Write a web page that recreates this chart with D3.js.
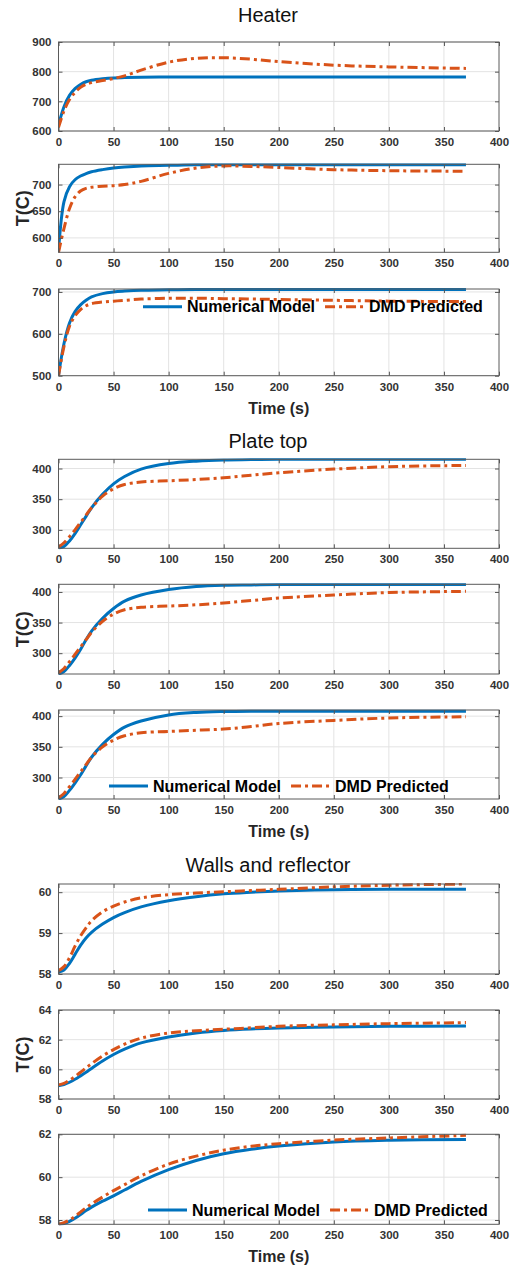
<!DOCTYPE html>
<html>
<head>
<meta charset="utf-8">
<script src="https://cdn.jsdelivr.net/npm/d3@7"></script>
<style>
  body { margin: 0; background: #fff; }
  svg { display: block; font-family: "Liberation Sans", Arial, sans-serif; }
</style>
</head>
<body>
<svg id="canvas" width="519" height="1270"></svg>
<script>
// time samples (s)
let time = [0, 5, 10, 15, 20, 25, 30, 40, 50, 60, 75, 100, 125, 150, 175, 200, 250, 300, 370]

// Heater
let heater1Num = [620, 682, 720, 743, 757, 766, 771, 776, 779, 780, 781, 782, 782, 782, 782, 782, 782, 782, 782]
let heater1Dmd = [612, 668, 706, 730, 747, 757, 763, 770, 777, 786, 805, 832, 845, 847, 842, 834, 822, 816, 811]
let heater2Num = [575, 668, 696, 709, 716, 720.5, 724, 728, 731, 733, 735, 736, 737, 737, 737, 737, 737, 737, 737]
let heater2Dmd = [573, 618, 655, 677, 688, 693, 695, 697, 698, 700, 706, 721, 731, 735, 734, 732, 728, 726, 725]
let heater3Num = [500, 577, 626, 653, 669, 680, 688, 696, 700, 702, 704, 705, 706, 706, 706, 706, 706, 706, 706]
let heater3Dmd = [500, 570, 618, 643, 658, 667, 672, 676, 678, 680, 683, 685, 685, 684, 683, 682, 680, 678, 677]

// Plate top
let plate1Num = [270, 273, 282, 294, 308, 322, 336, 358, 375, 387, 399, 408, 412, 414, 414.5, 415, 415, 415, 415]
let plate1Dmd = [272, 279, 289, 300, 312, 324, 336, 355, 367, 374, 378, 380, 382, 385, 389, 393, 399, 403, 405]
let plate2Num = [266, 270, 280, 292, 306, 322, 336, 357, 373, 385, 395, 404, 409, 411, 411.5, 412, 412, 412, 412]
let plate2Dmd = [268, 275, 286, 298, 310, 322, 334, 352, 364, 371, 375, 377, 379, 382, 386, 390, 395, 399, 401]
let plate3Num = [265, 269, 279, 291, 304, 319, 333, 354, 370, 382, 392, 402, 406, 407.5, 408, 408, 408, 408, 408]
let plate3Dmd = [267, 274, 285, 297, 309, 321, 333, 350, 361, 368, 373, 375, 377, 379, 383, 388, 393, 397, 399]

// Walls and reflector
let walls1Num = [58.05, 58.1, 58.26, 58.48, 58.7, 58.88, 59.02, 59.22, 59.38, 59.5, 59.64, 59.79, 59.89, 59.96, 60.0, 60.03, 60.06, 60.07, 60.07]
let walls1Dmd = [58.08, 58.18, 58.4, 58.68, 58.93, 59.13, 59.3, 59.52, 59.66, 59.76, 59.86, 59.94, 59.98, 60.01, 60.04, 60.07, 60.13, 60.17, 60.2]
let walls2Num = [58.9, 58.97, 59.13, 59.33, 59.56, 59.8, 60.06, 60.56, 61.0, 61.36, 61.78, 62.18, 62.45, 62.62, 62.72, 62.78, 62.85, 62.9, 62.92]
let walls2Dmd = [58.95, 59.06, 59.27, 59.52, 59.8, 60.1, 60.38, 60.9, 61.33, 61.7, 62.1, 62.45, 62.6, 62.7, 62.8, 62.9, 63.0, 63.08, 63.15]
let walls3Num = [57.78, 57.84, 57.94, 58.08, 58.26, 58.44, 58.6, 58.88, 59.13, 59.4, 59.8, 60.35, 60.78, 61.09, 61.3, 61.45, 61.64, 61.72, 61.76]
let walls3Dmd = [57.8, 57.88, 58.0, 58.17, 58.37, 58.57, 58.75, 59.07, 59.37, 59.65, 60.06, 60.61, 60.98, 61.26, 61.44, 61.56, 61.73, 61.83, 61.95]

// axis limits and ticks
let xTicks = [0, 50, 100, 150, 200, 250, 300, 350, 400]
let yDomains = [[600, 900], [573, 738], [500, 707], [270, 415], [266, 412.5], [265, 410], [58, 60.2], [58, 64], [57.8, 62]]
let yTicks = [[600, 700, 800, 900], [600, 650, 700], [500, 600, 700], [300, 350, 400], [300, 350, 400], [300, 350, 400], [58, 59, 60], [58, 60, 62, 64], [58, 60, 62]]

let groupTitles = ['Heater', 'Plate top', 'Walls and reflector']
let seriesNames = ['Numerical Model', 'DMD Predicted']

let numSeries = [heater1Num, heater2Num, heater3Num, plate1Num, plate2Num, plate3Num, walls1Num, walls2Num, walls3Num]
let dmdSeries = [heater1Dmd, heater2Dmd, heater3Dmd, plate1Dmd, plate2Dmd, plate3Dmd, walls1Dmd, walls2Dmd, walls3Dmd]

// layout: panel top/bottom in px
let panelBox = [[42, 131], [164.3, 252.3], [289, 375.7], [459.3, 548.3], [584.3, 674], [710, 799], [884, 974], [1010, 1099], [1134.3, 1224.3]]
let titleY = [22, 448, 872]
let left = 58.5, right = 499

let blue = '#0072BD'
let orange = '#D95319'

let canvas = d3.select('#canvas')

let x = d3.scaleLinear().domain([0, 400]).range([left, right])

let drawPanel = (i) => {
    let top = panelBox[i][0], bottom = panelBox[i][1]
    let y = d3.scaleLinear().domain(yDomains[i]).range([bottom, top])
    let g = canvas.append('g')

    // grid
    g.selectAll('.vgrid').data(xTicks.slice(1, -1)).enter().append('line')
        .attr('x1', d => x(d)).attr('x2', d => x(d))
        .attr('y1', top).attr('y2', bottom)
        .attr('stroke', '#e3e3e3').attr('stroke-width', 1)
    g.selectAll('.hgrid').data(yTicks[i]).enter().append('line')
        .attr('x1', left).attr('x2', right)
        .attr('y1', d => y(d)).attr('y2', d => y(d))
        .attr('stroke', '#e3e3e3').attr('stroke-width', 1)

    // lines
    g.append('clipPath').attr('id', 'clip' + i)
        .append('rect').attr('x', left).attr('y', top - 1)
        .attr('width', right - left).attr('height', bottom - top + 2)

    let line = d3.line()
        .x((d, k) => x(time[k]))
        .y(d => y(d))
        .curve(d3.curveCatmullRom.alpha(0.5))

    g.append('path').datum(numSeries[i])
        .attr('d', line)
        .attr('fill', 'none').attr('stroke', blue).attr('stroke-width', 3)
        .attr('clip-path', 'url(#clip' + i + ')')
    g.append('path').datum(dmdSeries[i])
        .attr('d', line)
        .attr('fill', 'none').attr('stroke', orange).attr('stroke-width', 3)
        .attr('stroke-dasharray', '10,4,3,4')
        .attr('clip-path', 'url(#clip' + i + ')')

    // axes (ticks inside, box on)
    let xAxis = d3.axisBottom(x).tickValues(xTicks).tickSizeInner(-4).tickSizeOuter(0).tickPadding(7)
    let xTop = d3.axisTop(x).tickValues(xTicks).tickSizeInner(-4).tickSizeOuter(0).tickFormat('')
    let yAxis = d3.axisLeft(y).tickValues(yTicks[i]).tickSizeInner(-4).tickSizeOuter(0).tickPadding(7)
        .tickFormat(d3.format('d'))
    let yRight = d3.axisRight(y).tickValues(yTicks[i]).tickSizeInner(-4).tickSizeOuter(0).tickFormat('')

    let axes = [
        g.append('g').attr('transform', 'translate(0,' + bottom + ')').call(xAxis),
        g.append('g').attr('transform', 'translate(0,' + top + ')').call(xTop),
        g.append('g').attr('transform', 'translate(' + left + ',0)').call(yAxis),
        g.append('g').attr('transform', 'translate(' + right + ',0)').call(yRight)
    ]
    axes.forEach(a => {
        a.select('.domain').remove()
        a.selectAll('.tick line').attr('stroke', '#555')
        a.selectAll('.tick text')
            .attr('fill', '#333')
            .style('font-size', '11.5px')
            .style('font-weight', 'bold')
            .style('font-family', '"Liberation Sans", Arial, sans-serif')
    })

    g.append('rect')
        .attr('x', left).attr('y', top)
        .attr('width', right - left).attr('height', bottom - top)
        .attr('fill', 'none').attr('stroke', '#5a5a5a').attr('stroke-width', 1)

    return g
}

let drawLegend = (g, lx, ly) => {
    let items = g.append('g').attr('transform', 'translate(' + lx + ',' + ly + ')')
    let cx = 0
    seriesNames.forEach((name, k) => {
        let ln = items.append('line')
            .attr('x1', cx).attr('x2', cx + 39)
            .attr('y1', 0).attr('y2', 0)
            .attr('stroke', k === 0 ? blue : orange).attr('stroke-width', 3)
        if (k === 1) ln.attr('stroke-dasharray', '10,4,3,4')
        cx += 44
        let t = items.append('text')
            .attr('x', cx).attr('y', 0).attr('dy', '0.35em')
            .style('font-size', '16px').style('font-weight', 'bold')
            .attr('fill', '#000')
            .text(name)
        cx += t.node().getComputedTextLength() + 10
    })
}

for (let i = 0; i < 9; i++) {
    let g = drawPanel(i)
    let grp = Math.floor(i / 3)
    let pos = i % 3

    if (pos === 0) {
        canvas.append('text')
            .attr('x', 268).attr('y', titleY[grp])
            .attr('text-anchor', 'middle')
            .style('font-size', '20px')
            .attr('fill', '#111')
            .text(groupTitles[grp])
    }
    if (pos === 1) {
        let mid = (panelBox[i][0] + panelBox[i][1]) / 2
        canvas.append('text')
            .attr('transform', 'translate(29,' + mid + ') rotate(-90)')
            .attr('text-anchor', 'middle')
            .style('font-size', '18px').style('font-weight', 'bold')
            .attr('fill', '#262626')
            .text('T(C)')
    }
    if (pos === 2) {
        canvas.append('text')
            .attr('x', (left + right) / 2).attr('y', panelBox[i][1] + 38)
            .attr('text-anchor', 'middle')
            .style('font-size', '16px').style('font-weight', 'bold')
            .attr('fill', '#262626')
            .text('Time (s)')
    }
}

// legends in the bottom panel of each group
drawLegend(canvas, 143, 306.7)
drawLegend(canvas, 109, 786)
drawLegend(canvas, 148, 1210)
</script>
</body>
</html>
